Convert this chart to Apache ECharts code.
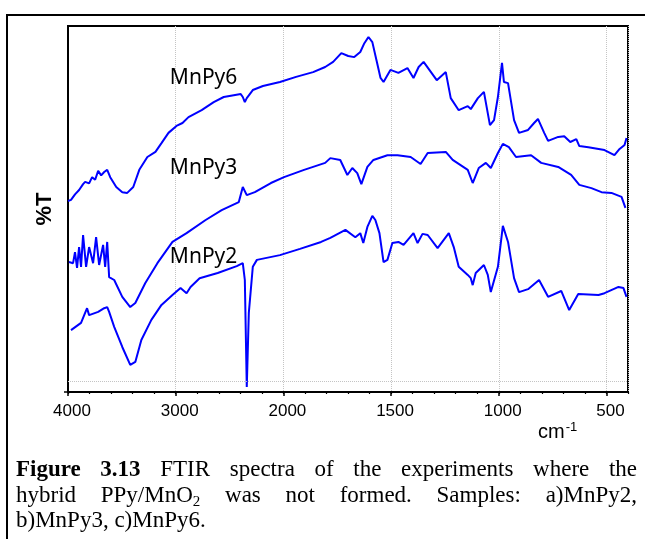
<!DOCTYPE html>
<html><head><meta charset="utf-8">
<script src="https://cdn.jsdelivr.net/npm/echarts@6/dist/echarts.min.js"></script>
<style>html,body{margin:0;padding:0;background:#fff}#c{width:645px;height:539px}</style>
</head><body><div id="c"></div>
<script>
// ---- data (wavenumber in cm-1, transmittance in arbitrary %T units) ----
const tickWn = [4000, 3000, 2000, 1500, 1000, 500];
const tickLabels = ['4000', '3000', '2000', '1500', '1000', '500'];

const mnpy6Wn = [4000,3972,3935,3897,3860,3841,3804,3776,3748,3720,3692,3664,3636,3608,3552,3496,3450,3394,3338,3263,3188,3132,3067,2993,2937,2881,2759,2647,2554,2461,2396,2377,2358,2340,2284,2190,2032,1941,1862,1806,1769,1731,1699,1671,1643,1624,1605,1587,1568,1549,1535,1503,1466,1424,1396,1372,1349,1288,1246,1223,1186,1144,1130,1097,1069,1041,1022,1004,985,976,957,929,906,864,836,818,789,771,724,696,668,640,626,584,509,463,439,416,407];
const mnpy6T  = [52.2,52.5,54.0,55.2,56.8,57.4,57.0,58.7,58.0,60.4,59.2,60.1,60.7,58.7,56.0,54.6,54.4,56.0,60.7,64.2,65.6,68.0,70.8,72.7,73.5,75.1,77.0,79.2,80.6,81.1,81.4,80.6,79.2,80.3,82.5,83.6,84.7,86.1,87.4,88.8,90.2,92.6,91.8,91.5,92.9,95.3,97.0,95.6,90.7,85.8,84.7,88.0,87.2,88.5,85.8,88.8,90.2,85.2,87.4,80.3,77.0,78.1,77.3,80.3,82.0,72.9,74.3,80.6,89.9,84.7,84.4,74.3,70.8,71.6,73.5,74.6,70.8,68.6,69.7,69.9,68.3,69.1,67.2,66.9,66.1,64.7,66.4,67.5,69.4];

const mnpy3Wn = [3991,3953,3935,3916,3897,3879,3860,3832,3804,3767,3739,3711,3674,3655,3636,3618,3571,3496,3422,3375,3282,3170,3030,2899,2722,2573,2414,2377,2340,2265,2116,1997,1904,1806,1782,1736,1703,1680,1657,1638,1610,1582,1517,1470,1409,1363,1330,1246,1214,1144,1121,1093,1060,1037,1004,981,953,920,850,803,724,664,626,570,523,477,430,412];
const mnpy3T  = [35.5,35.2,38.2,33.9,39.6,34.2,42.9,34.2,39.6,35.2,42.3,34.7,40.2,34.2,41.0,31.4,30.6,26.0,23.2,24.3,29.8,35.2,41.0,43.4,47.0,49.7,51.9,56.0,53.8,54.6,57.1,58.7,60.7,62.6,63.9,63.4,59.3,61.2,59.8,56.8,61.5,63.4,64.7,64.7,64.2,62.3,65.3,65.6,63.4,60.7,57.1,61.2,62.6,61.2,65.3,67.8,66.9,64.2,64.7,62.6,61.5,59.3,56.6,55.7,54.6,54.4,53.3,50.3];

const mnpy2Wn = [3972,3879,3823,3804,3720,3664,3636,3618,3571,3496,3422,3375,3319,3226,3132,3030,2955,2899,2862,2778,2610,2433,2377,2358,2340,2321,2284,2246,2032,1923,1825,1782,1712,1666,1643,1629,1610,1587,1573,1554,1535,1517,1494,1466,1442,1396,1377,1354,1330,1284,1232,1209,1186,1144,1130,1121,1107,1069,1051,1037,1004,981,957,953,929,906,864,813,771,710,673,631,537,509,444,421,407];
const mnpy2T  = [16.9,18.9,22.9,21.0,21.9,22.9,23.2,21.9,17.8,12.3,7.4,8.2,14.2,19.7,23.8,26.5,28.4,27.0,28.7,31.1,32.5,34.4,35.2,30.6,1.4,21.6,34.2,36.1,37.4,39.1,41.0,42.1,44.3,42.3,43.4,40.7,45.1,48.1,47.0,43.4,35.5,36.1,40.7,41.0,40.2,43.4,40.7,43.2,42.9,39.3,43.4,39.6,34.2,32.0,31.1,29.2,32.5,34.7,32.0,27.3,34.2,45.4,41.0,41.3,31.1,27.3,28.1,30.6,26.0,27.6,22.4,26.8,26.5,27.0,28.7,28.4,26.0];

const seriesNames = ['MnPy6', 'MnPy3', 'MnPy2'];
const labelWn = [2741, 2741, 2741];
const labelT = [85.8, 61.2, 36.9];
const gridLineT = 3;

// ---- scale: FTIR axis with change of scale at 2000 cm-1 ----
const wnToU = wn => wn >= 2000 ? (4000 - wn) / 1000 : 2 + (2000 - wn) / 500;
const U_MAX = wnToU(400);

const blue = '#0000ff';
const sets = [[mnpy6Wn, mnpy6T], [mnpy3Wn, mnpy3T], [mnpy2Wn, mnpy2T]];

const series = sets.map(([wn, t], i) => ({
  name: seriesNames[i],
  type: 'line',
  xAxisIndex: 0,
  yAxisIndex: 0,
  data: wn.map((w, j) => [wnToU(w), t[j]]),
  showSymbol: false,
  symbol: 'none',
  lineStyle: { color: blue, width: 2 },
  itemStyle: { color: blue },
  animation: false,
  z: 3,
  markPoint: {
    silent: true,
    animation: false,
    symbol: 'circle',
    symbolSize: 1,
    itemStyle: { color: 'rgba(0,0,0,0)' },
    label: {
      show: true, position: 'inside', formatter: seriesNames[i],
      fontFamily: '"Comic Sans MS", "Noto Sans", sans-serif', fontSize: 21, color: '#000'
    },
    data: [{ coord: [wnToU(labelWn[i]), labelT[i]] }]
  },
  markLine: i === 0 ? {
    silent: true, animation: false, symbol: 'none',
    label: { show: false },
    lineStyle: { color: '#c4c4c4', type: 'dotted', width: 1 },
    data: [{ yAxis: gridLineT }]
  } : undefined
}));

const chart = echarts.init(document.getElementById('c'), null, { renderer: 'canvas' });

// ---- caption (justified like the source) ----
const capFont = '"Liberation Serif", "Times New Roman", serif';
const capSize = 23;
const subSize = 15;
const mctx = document.createElement('canvas').getContext('2d');
function tw(t, bold, size) {
  mctx.font = (bold ? 'bold ' : '') + (size || capSize) + 'px ' + capFont;
  return mctx.measureText(t).width;
}
const capLeft = 16, capRight = 637;
const capLines = [
  { y: 470, justify: true, words: [{ t: 'Figure', b: true }, { t: '3.13', b: true }, { t: 'FTIR' }, { t: 'spectra' }, { t: 'of' }, { t: 'the' }, { t: 'experiments' }, { t: 'where' }, { t: 'the' }] },
  { y: 496, justify: true, words: [{ t: 'hybrid' }, { t: 'PPy/MnO', sub: '2' }, { t: 'was' }, { t: 'not' }, { t: 'formed.' }, { t: 'Samples:' }, { t: 'a)MnPy2,' }] },
  { y: 521, justify: false, words: [{ t: 'b)MnPy3,' }, { t: 'c)MnPy6.' }] }
];
const graphics = [];
capLines.forEach(line => {
  const widths = line.words.map(w => tw(w.t, w.b) + (w.sub ? tw(w.sub, false, subSize) : 0));
  const total = widths.reduce((a, b) => a + b, 0);
  const gap = line.justify ? (capRight - capLeft - total) / (line.words.length - 1) : tw(' ');
  let x = capLeft;
  line.words.forEach((w, k) => {
    graphics.push({
      type: 'text', silent: true,
      style: { x: x, y: line.y, text: w.t, fill: '#000', font: (w.b ? 'bold ' : '') + capSize + 'px ' + capFont, textVerticalAlign: 'middle' }
    });
    if (w.sub) {
      graphics.push({
        type: 'text', silent: true,
        style: { x: x + tw(w.t, w.b), y: line.y + 6, text: w.sub, fill: '#000', font: subSize + 'px ' + capFont, textVerticalAlign: 'middle' }
      });
    }
    x += widths[k] + gap;
  });
});
// outer frame
graphics.push({ type: 'rect', silent: true, shape: { x: 7, y: 15, width: 700, height: 600 }, style: { fill: 'none', stroke: '#000', lineWidth: 2 } });
// x-axis unit
graphics.push({
  type: 'text', silent: true,
  style: {
    x: 538, y: 432, text: 'cm{s|-1}', fill: '#000', textVerticalAlign: 'middle',
    font: '20px "Liberation Sans", Arial, sans-serif',
    rich: { s: { fontSize: 13, fontFamily: '"Liberation Sans", Arial, sans-serif', padding: [0, 0, 10, 1], fill: '#000' } }
  }
});

chart.setOption({
  animation: false,
  backgroundColor: '#fff',
  grid: { left: 68, right: 17, top: 26, bottom: 147, show: true, borderColor: '#000', borderWidth: 2, backgroundColor: 'transparent' },
  xAxis: [
    {
      type: 'value', min: 0, max: U_MAX, interval: 1, position: 'bottom',
      axisLine: { show: true, onZero: false, lineStyle: { color: '#000', width: 2 } },
      axisTick: { show: true, length: 4, lineStyle: { color: '#000', width: 1.5 } },
      axisLabel: {
        show: true, showMaxLabel: false, color: '#000', fontSize: 17, margin: 11,
        fontFamily: '"Liberation Sans", Arial, sans-serif', padding: [0, 0, 0, 8],
        formatter: v => { const k = Math.round(v); return (Math.abs(v - k) < 1e-6 && k < tickLabels.length && wnToU(tickWn[k]) === k) ? tickLabels[k] : ''; }
      },
      splitLine: { show: true, lineStyle: { color: '#c4c4c4', type: 'dotted', width: 1 } }
    },
    {
      type: 'value', min: 0, max: U_MAX, interval: 0.2, position: 'bottom', gridIndex: 0,
      axisLine: { show: false, onZero: false },
      axisTick: { show: true, length: 2, lineStyle: { color: '#000', width: 1.2 } },
      axisLabel: { show: false },
      splitLine: { show: false }
    }
  ],
  yAxis: {
    type: 'value', min: 0, max: 100, interval: 100,
    axisLine: { show: true, onZero: false, lineStyle: { color: '#000', width: 2 } },
    axisTick: { show: true, length: 4, customValues: [0], lineStyle: { color: '#000', width: 1.5 } },
    axisLabel: { show: false },
    splitLine: { show: false },
    name: '%T', nameLocation: 'middle', nameGap: 12,
    nameTextStyle: { fontFamily: '"Liberation Sans", Arial, sans-serif', fontWeight: 'bold', fontSize: 22, color: '#000' }
  },
  series: series,
  graphic: graphics
});
</script>
</body></html>
